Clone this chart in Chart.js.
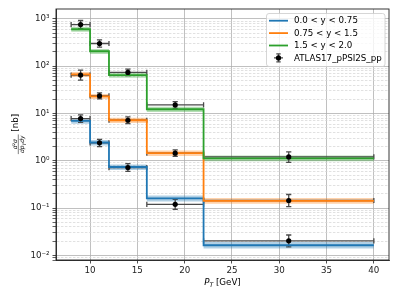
<!DOCTYPE html>
<html>
<head>
<meta charset="utf-8">
<script src="https://cdn.jsdelivr.net/npm/chart.js@4.4.1/dist/chart.umd.min.js"></script>
<style>
  html, body { margin: 0; padding: 0; background: #fff; }
</style>
</head>
<body>
<canvas id="c" width="399" height="299"></canvas>
<script>
// --- data ---
const binEdges = [8, 10, 12, 16, 22, 40];
const binCenters = [9, 11, 14, 19, 31];
const xTicks = [10, 15, 20, 25, 30, 35, 40];
const yDecades = [0.001, 0.01, 0.1, 1, 10, 100, 1000];
const yMinorMult = [1, 2, 3, 4, 5, 6, 7, 8, 9];

const seriesLabels = ['0.0 < y < 0.75', '0.75 < y < 1.5', '1.5 < y < 2.0'];
const dataLabel = 'ATLAS17_pPSI2S_pp';
const colors = ['#1f77b4', '#ff7f0e', '#2ca02c'];
const bandColors = ['rgba(31,119,180,0.35)', 'rgba(255,127,14,0.35)', 'rgba(44,160,44,0.35)'];

// predictions (step histograms) and their bands
const predBlue   = [7.0, 2.44, 0.74, 0.16, 0.0164];
const predBlueHi = [7.9, 2.76, 0.84, 0.184, 0.0192];
const predBlueLo = [6.1, 2.12, 0.64, 0.138, 0.0140];
const predOrange   = [67, 23, 7.2, 1.45, 0.142];
const predOrangeHi = [75, 26, 8.1, 1.65, 0.163];
const predOrangeLo = [59, 20.2, 6.3, 1.26, 0.123];
const predGreen   = [605, 207, 64.5, 12.3, 1.13];
const predGreenHi = [675, 232, 72, 13.9, 1.29];
const predGreenLo = [535, 182, 57, 10.8, 0.98];

// measurements with y errors
const dataBlue     = [7.8, 2.4, 0.72, 0.12, 0.0203];
const dataBlueLo   = [6.5, 2.0, 0.60, 0.094, 0.0152];
const dataBlueHi   = [9.4, 2.83, 0.87, 0.153, 0.027];
const dataOrange   = [65, 23.5, 7.2, 1.45, 0.145];
const dataOrangeLo = [51, 20.3, 6.1, 1.24, 0.108];
const dataOrangeHi = [83, 27.2, 8.5, 1.70, 0.194];
const dataGreen    = [760, 302, 74, 15.2, 1.21];
const dataGreenLo  = [625, 254, 63, 12.9, 0.93];
const dataGreenHi  = [925, 360, 87, 17.9, 1.55];

const yMin = 0.008, yMax = 1620;
const FONT = '"DejaVu Sans", sans-serif';

// --- helpers ---
const isDecade = (v) => Math.abs(Math.log10(v) - Math.round(Math.log10(v))) < 1e-6;
const SUP = { '-': '\u207b', '0': '\u2070', '1': '\u00b9', '2': '\u00b2', '3': '\u00b3', '4': '\u2074', '5': '\u2075', '6': '\u2076', '7': '\u2077', '8': '\u2078', '9': '\u2079' };
const sup = (n) => String(n).split('').map(ch => SUP[ch]).join('');

const yTicks = [];
yDecades.forEach(d => yMinorMult.forEach(m => {
  const v = Number((d * m).toPrecision(3));
  if (v >= yMin && v <= yMax) yTicks.push(v);
}));

const steps = (vals) => binEdges.map((e, i) => ({ x: e, y: vals[Math.min(i, vals.length - 1)] }));
const pts = (vals) => binCenters.map((x, i) => ({ x, y: vals[i] }));

const preds = [[predBlue, predBlueHi, predBlueLo], [predOrange, predOrangeHi, predOrangeLo], [predGreen, predGreenHi, predGreenLo]];
const meas = [[dataBlue, dataBlueLo, dataBlueHi], [dataOrange, dataOrangeLo, dataOrangeHi], [dataGreen, dataGreenLo, dataGreenHi]];

// --- datasets: first index is drawn on top ---
// 0-2 markers, 3-5 step lines, rest bands
const datasets = [];
meas.forEach(([v, lo, hi]) => {
  datasets.push({
    type: 'scatter', data: pts(v), errLo: lo, errHi: hi,
    pointRadius: 2.6, pointBackgroundColor: '#000', pointBorderColor: '#000', pointBorderWidth: 0
  });
});
[2, 1, 0].forEach((i, k) => {
  datasets.push({
    type: 'line', label: seriesLabels[i], data: steps(preds[i][0]), stepped: true,
    borderColor: colors[i], borderWidth: 1.8, pointRadius: 0, fill: false,
    barsBefore: k === 2
  });
});
[2, 1, 0].forEach(i => {
  datasets.push({
    type: 'line', data: steps(preds[i][1]), stepped: true,
    borderWidth: 0, pointRadius: 0, fill: false
  });
  datasets.push({
    type: 'line', data: steps(preds[i][2]), stepped: true,
    borderWidth: 0, pointRadius: 0, fill: '-1', backgroundColor: bandColors[i]
  });
});

// --- plugins ---
// error bars go under the step lines, markers stay on top
const errorBars = {
  id: 'errorBars',
  beforeDatasetDraw(chart, args) {
    if (!chart.data.datasets[args.index].barsBefore) return;
    const xs = chart.scales.x, ys = chart.scales.y, c = chart.ctx;
    const cap = 2.6;
    c.save();
    c.strokeStyle = '#4a4a4a';
    c.lineWidth = 1.3;
    chart.data.datasets.filter(d => d.errLo).forEach(ds => {
      ds.data.forEach((p, j) => {
        const px = xs.getPixelForValue(p.x), py = ys.getPixelForValue(p.y);
        const x0 = xs.getPixelForValue(binEdges[j]), x1 = xs.getPixelForValue(binEdges[j + 1]);
        const yl = ys.getPixelForValue(ds.errLo[j]), yh = ys.getPixelForValue(ds.errHi[j]);
        c.beginPath();
        c.moveTo(x0, py); c.lineTo(x1, py);
        c.moveTo(x0, py - cap); c.lineTo(x0, py + cap);
        c.moveTo(x1, py - cap); c.lineTo(x1, py + cap);
        c.moveTo(px, yl); c.lineTo(px, yh);
        c.moveTo(px - cap, yl); c.lineTo(px + cap, yl);
        c.moveTo(px - cap, yh); c.lineTo(px + cap, yh);
        c.stroke();
      });
    });
    c.restore();
  }
};

const frame = {
  id: 'frame',
  afterDatasetsDraw(chart) {
    const { left, right, top, bottom } = chart.chartArea, c = chart.ctx;
    c.save();
    c.strokeStyle = '#222';
    c.lineWidth = 0.9;
    c.strokeRect(left, top, right - left, bottom - top);
    c.restore();
  }
};

const legendBox = {
  id: 'legendBox',
  afterDraw(chart) {
    const c = chart.ctx;
    const lx = 266.5, ly = 13.5, lw = 118.5, lh = 53;
    c.save();
    c.beginPath();
    c.roundRect(lx, ly, lw, lh, 2.5);
    c.fillStyle = 'rgba(255,255,255,0.8)';
    c.fill();
    c.strokeStyle = '#cccccc';
    c.lineWidth = 0.8;
    c.stroke();
    c.font = '8.7px ' + FONT;
    c.textBaseline = 'middle';
    c.fillStyle = '#000';
    const rows = [...seriesLabels, dataLabel];
    rows.forEach((t, i) => {
      const y = ly + 7.2 + i * 12.4;
      if (i < 3) {
        c.strokeStyle = colors[i];
        c.lineWidth = 1.8;
        c.beginPath(); c.moveTo(269, y); c.lineTo(288, y); c.stroke();
      } else {
        const mx = 278.5;
        c.strokeStyle = '#4a4a4a';
        c.lineWidth = 1.3;
        c.beginPath();
        c.moveTo(mx - 4.5, y); c.lineTo(mx + 4.5, y);
        c.moveTo(mx, y - 4); c.lineTo(mx, y + 4);
        c.moveTo(mx - 2.2, y - 4); c.lineTo(mx + 2.2, y - 4);
        c.moveTo(mx - 2.2, y + 4); c.lineTo(mx + 2.2, y + 4);
        c.stroke();
        c.fillStyle = '#000';
        c.beginPath(); c.arc(mx, y, 2.6, 0, Math.PI * 2); c.fill();
      }
      c.fillStyle = '#000';
      c.fillText(t, 294, y + 0.5);
    });
    c.restore();
  }
};

const axisTitles = {
  id: 'axisTitles',
  afterDraw(chart) {
    const c = chart.ctx;
    const { left, right } = chart.chartArea;
    c.save();
    c.fillStyle = '#000';
    c.textBaseline = 'alphabetic';
    // x: P_T [GeV]
    const fBig = 'italic 8.7px ' + FONT, fSub = 'italic 6.1px ' + FONT, fReg = '8.7px ' + FONT;
    c.font = fBig; const wP = c.measureText('P').width;
    c.font = fSub; const wT = c.measureText('T').width;
    c.font = fReg; const wG = c.measureText(' [GeV]').width;
    let x = (left + right) / 2 - (wP + wT + wG) / 2;
    const base = 285;
    c.font = fBig; c.fillText('P', x, base); x += wP;
    c.font = fSub; c.fillText('T', x, base + 1.8); x += wT;
    c.font = fReg; c.fillText(' [GeV]', x, base);

    // y: d²σ / dp_T dy [nb], rotated
    c.translate(18.3, 134);
    c.rotate(-Math.PI / 2);
    const fFrac = 'italic 6px ' + FONT, fFracSub = 'italic 4.4px ' + FONT;
    c.font = fFrac; const wNum = c.measureText('d\u00b2\u03c3').width;
    const wD1 = c.measureText('dp').width, wD2 = c.measureText('dy').width;
    c.font = fFracSub; const wDs = c.measureText('T').width;
    const wDen = wD1 + wDs + wD2;
    const wFrac = Math.max(wNum, wDen) + 2;
    c.font = fReg; const wNb = c.measureText(' [nb]').width;
    const x0 = -(wFrac + wNb) / 2;
    c.strokeStyle = '#000'; c.lineWidth = 0.5;
    c.beginPath(); c.moveTo(x0, 0); c.lineTo(x0 + wFrac, 0); c.stroke();
    c.font = fFrac;
    c.fillText('d\u00b2\u03c3', x0 + (wFrac - wNum) / 2, -1.4);
    let dx = x0 + (wFrac - wDen) / 2;
    c.fillText('dp', dx, 6); dx += wD1;
    c.font = fFracSub; c.fillText('T', dx, 7.3); dx += wDs;
    c.font = fFrac; c.fillText('dy', dx, 6);
    c.font = fReg; c.textBaseline = 'middle';
    c.fillText(' [nb]', x0 + wFrac, -2.3);
    c.restore();
  }
};

// --- chart ---
new Chart(document.getElementById('c'), {
  type: 'scatter',
  data: { datasets },
  plugins: [errorBars, frame, legendBox, axisTitles],
  options: {
    responsive: false,
    animation: false,
    devicePixelRatio: 1,
    layout: { padding: { left: 0, right: 10, top: 9, bottom: 0 } },
    plugins: { legend: { display: false }, tooltip: { enabled: false } },
    scales: {
      x: {
        type: 'linear', min: 6.4, max: 41.6,
        afterBuildTicks: (s) => { s.ticks = xTicks.map(v => ({ value: v })); },
        afterFit: (s) => { s.height = 39; },
        ticks: { autoSkip: false, maxRotation: 0, padding: 2.5, color: '#222', font: { family: FONT, size: 8.7 } },
        grid: { color: '#b0b0b0', lineWidth: 0.8, tickColor: '#222', tickLength: 3.5 },
        border: { color: '#222', width: 0.9 }
      },
      y: {
        type: 'logarithmic', min: yMin, max: yMax,
        afterBuildTicks: (s) => { s.ticks = yTicks.map(v => ({ value: v, major: isDecade(v) })); },
        afterFit: (s) => { s.width = 56; },
        ticks: {
          autoSkip: false, padding: 3, color: '#222', font: { family: FONT, size: 8.7 },
          callback: (v) => isDecade(v) ? '10' + sup(Math.round(Math.log10(v))) : ''
        },
        grid: {
          color: (ctx) => (ctx.tick && isDecade(ctx.tick.value)) ? '#b0b0b0' : '#d4d4d4',
          lineWidth: (ctx) => (ctx.tick && isDecade(ctx.tick.value)) ? 0.8 : 0.7,
          tickColor: '#222', tickLength: 3.5
        },
        border: {
          color: '#222', width: 0.9,
          dash: (ctx) => (ctx.tick && !isDecade(ctx.tick.value)) ? [2.5, 1.5] : []
        }
      }
    }
  }
});
</script>
</body>
</html>
